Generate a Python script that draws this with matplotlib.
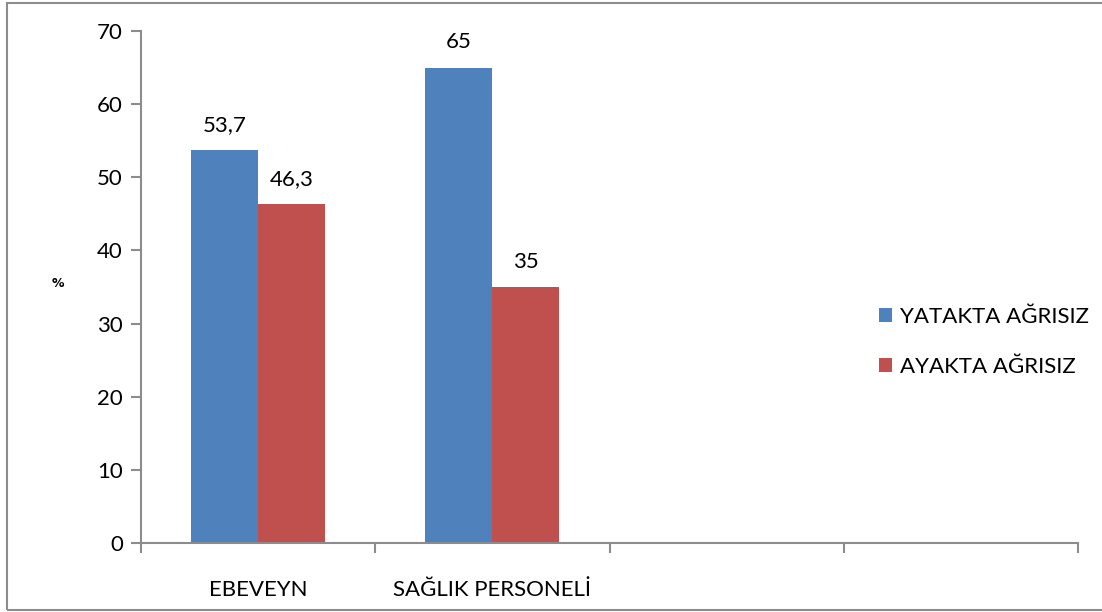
import matplotlib.pyplot as plt
from matplotlib.patches import Rectangle

plt.rcParams['font.family'] = ['Lato', 'DejaVu Sans']

categories = ["EBEVEYN", "SAĞLIK PERSONELİ", "", ""]
series_names = ["YATAKTA AĞRISIZ", "AYAKTA AĞRISIZ"]
yatakta = [53.7, 65]
ayakta = [46.3, 35]
value_labels_yatakta = ["53,7", "65"]
value_labels_ayakta = ["46,3", "35"]
colors = ["#4F81BD", "#C0504D"]
yticks = [0, 10, 20, 30, 40, 50, 60, 70]

W, H = 1102, 612
FS = 16
fig = plt.figure(figsize=(W / 100, H / 100), dpi=100)
ax = fig.add_axes([141 / W, 1 - 543 / H, (1078 - 141) / W, (543 - 31) / H])

# outer chart border
fig.patches.append(Rectangle((7 / W, 1 - 610 / H), 1.2, (610 - 3) / H,
                             transform=fig.transFigure, fill=False,
                             edgecolor="#8C8C8C", linewidth=1.5))

width = 0.286
x = list(range(len(yatakta)))
b1 = ax.bar([i - width / 2 for i in x], yatakta, width, color=colors[0], label=series_names[0])
b2 = ax.bar([i + width / 2 for i in x], ayakta, width, color=colors[1], label=series_names[1])

for bars, texts in ((b1, value_labels_yatakta), (b2, value_labels_ayakta)):
    for rect, txt in zip(bars, texts):
        ax.annotate(txt, (rect.get_x() + rect.get_width() / 2, rect.get_height()),
                    xytext=(0, 11), textcoords="offset points", ha="center", va="bottom",
                    fontsize=FS)

ax.set_xlim(-0.5, len(categories) - 0.5)
ax.set_ylim(0, 70)
ax.set_yticks(yticks)
ax.set_xticks([i - 0.5 for i in range(len(categories) + 1)])
ax.set_xticklabels([])
ax.set_xticks(range(len(categories)), minor=True)
ax.set_xticklabels(categories, minor=True)
ax.tick_params(axis="x", which="minor", length=0, pad=27, labelsize=FS)
ax.tick_params(axis="x", which="major", length=7, width=1.5, color="#8C8C8C", direction="out")
ax.tick_params(axis="y", length=7, width=1.5, color="#8C8C8C", direction="out", labelsize=FS, pad=6)

for s in ["top", "right"]:
    ax.spines[s].set_visible(False)
for s in ["left", "bottom"]:
    ax.spines[s].set_color("#8C8C8C")
    ax.spines[s].set_linewidth(1.5)

ax.set_ylabel("%", rotation=0, fontsize=9, fontweight="bold", labelpad=0,
              family="DejaVu Sans")
ax.yaxis.set_label_coords(-0.089, 0.495)

leg = fig.legend(handles=[b1, b2], labels=series_names, loc="center left",
                 bbox_to_anchor=(859 / W, 1 - 342 / H), frameon=False, fontsize=FS,
                 handlelength=0.6, handleheight=0.6, handletextpad=0.35, labelspacing=1.35)

fig.savefig("out.png", dpi=100)
